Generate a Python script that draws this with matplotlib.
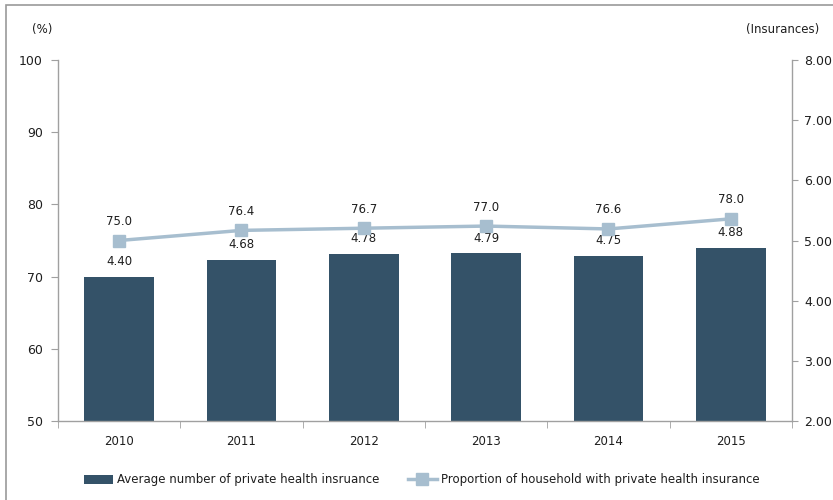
import matplotlib.pyplot as plt
import numpy as np

years = ["2010", "2011", "2012", "2013", "2014", "2015"]
avg_insurances = [4.40, 4.68, 4.78, 4.79, 4.75, 4.88]
household_pct = [75.0, 76.4, 76.7, 77.0, 76.6, 78.0]

bar_color = "#345268"
line_color = "#A7BECF"
axis_color = "#A0A0A0"
text_color = "#1E1E1E"

plt.rcParams["font.family"] = "DejaVu Sans"
plt.rcParams["font.size"] = 8.5

fig = plt.figure(figsize=(8.33, 5), dpi=100)
ax = fig.add_axes([0.0696, 0.158, 0.881, 0.722])
ax2 = ax.twinx()

x = np.arange(len(years))

# bars on the right-hand scale
ax2.bar(x, avg_insurances, width=0.57, bottom=0, color=bar_color, zorder=2,
        label="Average number of private health insruance")
ax2.set_ylim(2, 8)
ax2.set_yticks(np.arange(2, 8.01, 1))
ax2.set_yticklabels([f"{v:.2f}" for v in np.arange(2, 8.01, 1)])
for xi, v in zip(x, avg_insurances):
    ax2.annotate(f"{v:.2f}", (xi, v), xytext=(0, 6), textcoords="offset points",
                 ha="center", va="bottom", color=text_color, fontsize=8.5)

# line on the left-hand scale, drawn above the bars
ax.set_zorder(ax2.get_zorder() + 1)
ax.patch.set_visible(False)
ax.plot(x, household_pct, color=line_color, linewidth=2.5, marker="s",
        markersize=8, zorder=3,
        label="Proportion of household with private health insurance")
ax.set_ylim(50, 100)
ax.set_yticks(range(50, 101, 10))
for xi, v in zip(x, household_pct):
    ax.annotate(f"{v:.1f}", (xi, v), xytext=(0, 9), textcoords="offset points",
                ha="center", va="bottom", color=text_color, fontsize=8.5)

ax.set_xlim(-0.5, len(years) - 0.5)
ax.set_xticks(x)
ax.set_xticklabels(years)
ax.set_xticks(np.arange(-0.5, len(years), 1), minor=True)
ax.tick_params(axis="x", which="major", length=0, pad=10, colors=text_color)
ax.tick_params(axis="x", which="minor", length=5, color=axis_color)
ax.tick_params(axis="y", length=5, color=axis_color, labelcolor=text_color,
               pad=6, labelsize=9)
ax2.tick_params(axis="y", length=4, color=axis_color, labelcolor=text_color,
                pad=5, labelsize=9)

for a in (ax, ax2):
    for side in a.spines:
        a.spines[side].set_visible(False)
ax.spines["left"].set_visible(True)
ax.spines["bottom"].set_visible(True)
ax2.spines["right"].set_visible(True)
for sp in (ax.spines["left"], ax.spines["bottom"], ax2.spines["right"]):
    sp.set_color(axis_color)
    sp.set_linewidth(1.0)

fig.text(0.051, 0.94, "(%)", ha="center", va="center", color=text_color, fontsize=8.5)
fig.text(0.939, 0.94, "(Insurances)", ha="center", va="center", color=text_color, fontsize=8.5)

h1, l1 = ax2.get_legend_handles_labels()
h2, l2 = ax.get_legend_handles_labels()
fig.legend(h1 + h2, l1 + l2, loc="center", bbox_to_anchor=(0.506, 0.04), ncol=2,
           frameon=False, handlelength=2.5, handleheight=0.9, columnspacing=2.4,
           handletextpad=0.3, fontsize=8.5, labelcolor=text_color)

# outer frame
fig.add_artist(plt.Rectangle((0.007, -0.1), 1.1, 1.09, transform=fig.transFigure,
                             fill=False, edgecolor="#9A9A9A", linewidth=1.2))

fig.savefig("out.png", dpi=100, facecolor="white")
